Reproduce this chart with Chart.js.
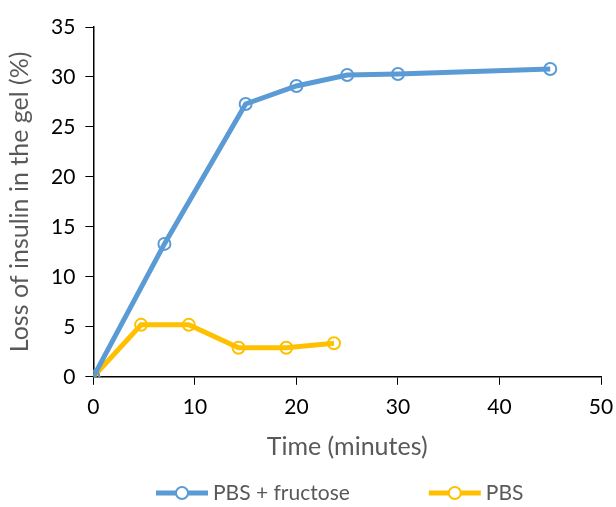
<!DOCTYPE html>
<html>
<head>
<meta charset="utf-8">
<script src="https://cdn.jsdelivr.net/npm/chart.js@4.4.1/dist/chart.umd.min.js"></script>
<style>
  html, body { margin: 0; padding: 0; background: #fff; }
  #wrap { width: 616px; height: 507px; }
</style>
</head>
<body>
<div id="wrap"><canvas id="chart"></canvas></div>
<script>
// data
const fructoseTime = [0, 7, 15, 20, 25, 30, 45];
const fructoseLoss = [0, 13.3, 27.3, 29.1, 30.2, 30.3, 30.8];
const pbsTime = [0, 4.7, 9.4, 14.3, 19, 23.7];
const pbsLoss = [0, 5.2, 5.2, 2.9, 2.9, 3.35];
const seriesNames = ['PBS + fructose', 'PBS'];
const xTicks = [0, 10, 20, 30, 40, 50];
const yTicks = [0, 5, 10, 15, 20, 25, 30, 35];

const blue = '#5B9BD5';
const yellow = '#FFC000';
const font = 'Lato, Calibri, Carlito, sans-serif';

function toPoints(xs, ys) {
  return xs.map((x, i) => ({ x: x, y: ys[i] }));
}

// legend drawn by hand: thick line with an open circle, then the label
const lineLegend = {
  id: 'lineLegend',
  afterDraw(chart) {
    const g = chart.ctx;
    const y = 493;
    let x = 156;
    g.save();
    g.font = '21px ' + font;
    g.textBaseline = 'middle';
    chart.data.datasets.forEach((ds) => {
      g.strokeStyle = ds.borderColor;
      g.lineWidth = 5;
      g.lineCap = 'butt';
      g.beginPath(); g.moveTo(x, y); g.lineTo(x + 52, y); g.stroke();
      g.fillStyle = '#fff';
      g.lineWidth = 2;
      g.beginPath(); g.arc(x + 26, y, 6, 0, Math.PI * 2); g.fill(); g.stroke();
      g.fillStyle = '#595959';
      g.fillText(ds.label, x + 57, y);
      x += 57 + g.measureText(ds.label).width + 79;
    });
    g.restore();
  }
};

const ctx = document.getElementById('chart').getContext('2d');
new Chart(ctx, {
  type: 'line',
  data: {
    datasets: [
      {
        label: seriesNames[0],
        data: toPoints(fructoseTime, fructoseLoss),
        borderColor: blue,
        borderWidth: 5,
        pointRadius: 6,
        pointBorderWidth: 2,
        pointBackgroundColor: 'rgba(255,255,255,0)',
        pointBorderColor: blue,
        tension: 0
      },
      {
        label: seriesNames[1],
        data: toPoints(pbsTime, pbsLoss),
        borderColor: yellow,
        borderWidth: 5,
        pointRadius: 6,
        pointBorderWidth: 2,
        pointBackgroundColor: 'rgba(255,255,255,0)',
        pointBorderColor: yellow,
        tension: 0
      }
    ]
  },
  plugins: [lineLegend],
  options: {
    responsive: true,
    maintainAspectRatio: false,
    animation: false,
    layout: { padding: { top: 27, right: 0, left: 5, bottom: 45 } },
    plugins: {
      tooltip: { enabled: false },
      legend: { display: false }
    },
    scales: {
      x: {
        type: 'linear',
        min: 0,
        max: 50,
        afterBuildTicks: (axis) => { axis.ticks = xTicks.map(v => ({ value: v })); },
        afterFit: (axis) => { axis.paddingRight = 15; },
        grid: { drawOnChartArea: false, drawTicks: true, tickLength: 8, color: '#000' },
        border: { color: '#000', width: 1.5 },
        ticks: { color: '#000', font: { family: font, size: 21 }, padding: 10 },
        title: {
          display: true,
          text: 'Time (minutes)',
          color: '#595959',
          font: { family: font, size: 25 },
          padding: { top: 2, bottom: 0 }
        }
      },
      y: {
        min: 0,
        max: 35,
        afterBuildTicks: (axis) => { axis.ticks = yTicks.map(v => ({ value: v })); },
        grid: { drawOnChartArea: false, drawTicks: true, tickLength: 8, color: '#000' },
        border: { color: '#000', width: 1.5 },
        ticks: { color: '#000', font: { family: font, size: 21 }, padding: 10 },
        title: {
          display: true,
          text: 'Loss of insulin in the gel (%)',
          color: '#595959',
          font: { family: font, size: 25 },
          padding: { top: 0, bottom: 6 }
        }
      }
    }
  }
});
</script>
</body>
</html>
